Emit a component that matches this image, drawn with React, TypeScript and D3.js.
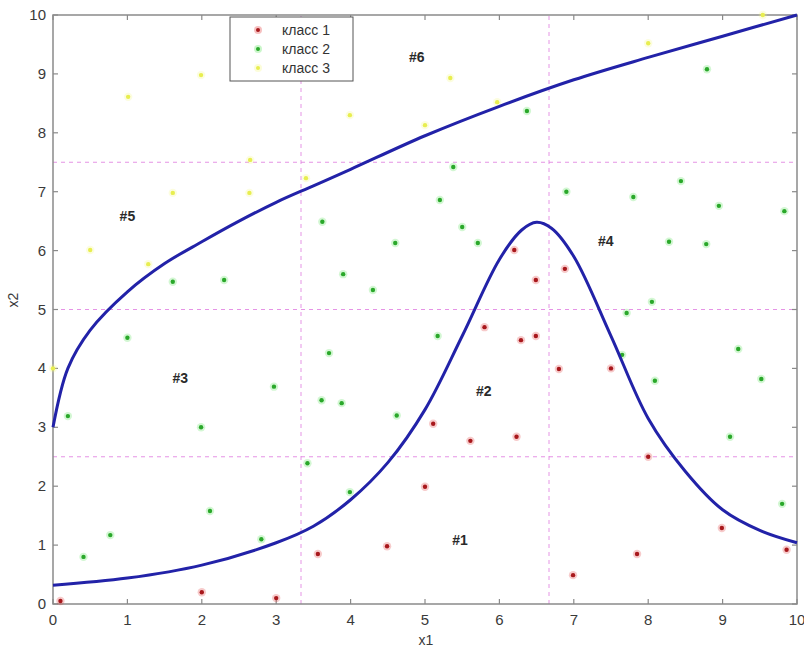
import React from 'react';
import { scaleLinear, line, curveCatmullRom, range } from 'd3';

// class points [x1, x2]
const class1 = [
  [0.1, 0.05], [2.0, 0.2], [3.0, 0.1], [3.56, 0.85], [4.49, 0.98], [5.0, 1.99], [5.11, 3.06],
  [5.61, 2.77], [6.23, 2.84], [8.0, 2.5], [6.99, 0.49], [7.85, 0.85], [8.99, 1.29], [9.86, 0.92],
  [6.2, 6.01], [6.49, 5.5], [6.88, 5.69], [5.8, 4.7], [6.29, 4.48], [6.49, 4.55], [6.8, 3.99], [7.5, 4.0],
];
const class2 = [
  [0.2, 3.19], [0.41, 0.8], [0.77, 1.17], [1.99, 3.0], [2.11, 1.58], [2.8, 1.1], [3.42, 2.39],
  [3.99, 1.9], [3.61, 3.46], [3.88, 3.41], [4.62, 3.2], [1.0, 4.52], [1.61, 5.47], [2.3, 5.5],
  [2.97, 3.69], [3.71, 4.26], [3.62, 6.49], [3.9, 5.6], [4.3, 5.33], [4.6, 6.13], [5.17, 4.55],
  [5.5, 6.4], [5.71, 6.13], [5.2, 6.86], [7.71, 4.94], [8.05, 5.13], [7.65, 4.23], [8.09, 3.79],
  [8.28, 6.15], [8.78, 6.11], [8.95, 6.76], [9.83, 6.67], [9.21, 4.33], [9.52, 3.82], [9.1, 2.84],
  [9.8, 1.7], [5.38, 7.42], [6.37, 8.37], [8.79, 9.08], [6.9, 7.0], [7.8, 6.91], [8.44, 7.18],
];
const class3 = [
  [1.01, 8.61], [1.99, 8.98], [1.61, 6.98], [2.64, 6.98], [2.65, 7.54], [3.4, 7.23], [3.99, 8.3],
  [0.5, 6.01], [1.28, 5.77], [0.0, 4.0], [5.0, 8.13], [5.34, 8.93], [5.97, 8.52], [8.0, 9.52], [9.54, 10.0],
];

// decision boundaries
const upperBoundary = [
  [0, 3], [0.2, 4], [0.5, 4.65], [1, 5.3], [1.5, 5.78], [2, 6.15], [2.5, 6.5], [3, 6.82],
  [3.5, 7.1], [4, 7.38], [5, 7.95], [6, 8.45], [7, 8.9], [8, 9.28], [9, 9.64], [10, 10],
];
const lowerBoundary = [
  [0, 0.32], [1, 0.44], [2, 0.66], [3, 1.04], [3.5, 1.32], [4, 1.77], [4.5, 2.4], [5, 3.3],
  [5.5, 4.55], [6, 5.85], [6.3, 6.35], [6.5, 6.48], [6.7, 6.38], [7, 5.9], [7.5, 4.55], [8, 3.15],
  [8.5, 2.25], [9, 1.6], [9.5, 1.25], [10, 1.04],
];

const gridX = [10 / 3, 20 / 3];
const gridY = [2.5, 5, 7.5];

const regionLabels = ['#1', '#2', '#3', '#4', '#5', '#6'];
const regionPos = [[5.47, 1.09], [5.79, 3.62], [1.71, 3.84], [7.43, 6.16], [1.0, 6.59], [4.89, 9.29]];

const legendLabels = ['класс 1', 'класс 2', 'класс 3'];

const classColors = [
  { core: '#a8181c', halo: '#e03030' },
  { core: '#2aa82a', halo: '#50e050' },
  { core: '#e8ee50', halo: '#f4f880' },
];

const font = '"Liberation Sans", Arial, sans-serif';

export default function App() {
  const x = scaleLinear().domain([0, 10]).range([53, 797]);
  const y = scaleLinear().domain([0, 10]).range([604, 15]);
  const path = line().x(d => x(d[0])).y(d => y(d[1])).curve(curveCatmullRom.alpha(0.5));
  const ticks = range(0, 11);
  const axisColor = '#8a8a8a';

  const dots = (data, c, key) =>
    data.map((d, i) => (
      <g key={key + i}>
        <circle cx={x(d[0])} cy={y(d[1])} r={4.2} fill={c.halo} opacity={0.25} />
        <circle cx={x(d[0])} cy={y(d[1])} r={2.2} fill={c.core} />
      </g>
    ));

  return (
    <svg width={804} height={649} style={{ position: 'absolute', left: 0, top: 0, background: '#fff' }}>
      <rect x={0} y={0} width={804} height={649} fill="#fff" />
      {/* dashed grid */}
      {gridX.map((g, i) => (
        <line key={'gx' + i} x1={x(g)} x2={x(g)} y1={y(0)} y2={y(10)}
          stroke="#e07ae0" strokeWidth={1} strokeDasharray="4,4" opacity={0.8} />
      ))}
      {gridY.map((g, i) => (
        <line key={'gy' + i} x1={x(0)} x2={x(10)} y1={y(g)} y2={y(g)}
          stroke="#e07ae0" strokeWidth={1} strokeDasharray="4,4" opacity={0.8} />
      ))}

      {/* frame and ticks */}
      <rect x={x(0)} y={y(10)} width={x(10) - x(0)} height={y(0) - y(10)}
        fill="none" stroke={axisColor} strokeWidth={1.5} />
      {ticks.map(t => (
        <g key={'t' + t}>
          <line x1={x(t)} x2={x(t)} y1={y(0)} y2={y(0) - 5} stroke={axisColor} strokeWidth={1.2} />
          <line x1={x(t)} x2={x(t)} y1={y(10)} y2={y(10) + 5} stroke={axisColor} strokeWidth={1.2} />
          <line x1={x(0)} x2={x(0) + 5} y1={y(t)} y2={y(t)} stroke={axisColor} strokeWidth={1.2} />
          <line x1={x(10)} x2={x(10) - 5} y1={y(t)} y2={y(t)} stroke={axisColor} strokeWidth={1.2} />
          <text x={x(t)} y={y(0) + 21} textAnchor="middle" fontFamily={font} fontSize={15} fill="#3a3a3a">{t}</text>
          <text x={x(0) - 7} y={y(t) + 5} textAnchor="end" fontFamily={font} fontSize={15} fill="#3a3a3a">{t}</text>
        </g>
      ))}
      <text x={426} y={645} textAnchor="middle" fontFamily={font} fontSize={14} fill="#3a3a3a">x1</text>
      <text transform="translate(18,300) rotate(-90)" textAnchor="middle" fontFamily={font} fontSize={14} fill="#3a3a3a">x2</text>

      {/* points */}
      {dots(class3, classColors[2], 'c3')}
      {dots(class2, classColors[1], 'c2')}
      {dots(class1, classColors[0], 'c1')}

      {/* boundaries */}
      <path d={path(upperBoundary)} fill="none" stroke="#2222a8" strokeWidth={3} />
      <path d={path(lowerBoundary)} fill="none" stroke="#2222a8" strokeWidth={3} />

      {/* region labels */}
      {regionLabels.map((l, i) => (
        <text key={l} x={x(regionPos[i][0])} y={y(regionPos[i][1]) + 5} textAnchor="middle"
          fontFamily={font} fontSize={14} fontWeight="bold" fill="#2a2a2a">{l}</text>
      ))}

      {/* legend */}
      <rect x={230} y={17} width={123} height={64} fill="#fff" stroke="#555" strokeWidth={1} />
      {legendLabels.map((l, i) => (
        <g key={l}>
          <circle cx={258} cy={30 + i * 19} r={4} fill={classColors[i].halo} opacity={0.3} />
          <circle cx={258} cy={30 + i * 19} r={2} fill={classColors[i].core} />
          <text x={282} y={35 + i * 19} fontFamily={font} fontSize={14} fill="#333">{l}</text>
        </g>
      ))}
    </svg>
  );
}
